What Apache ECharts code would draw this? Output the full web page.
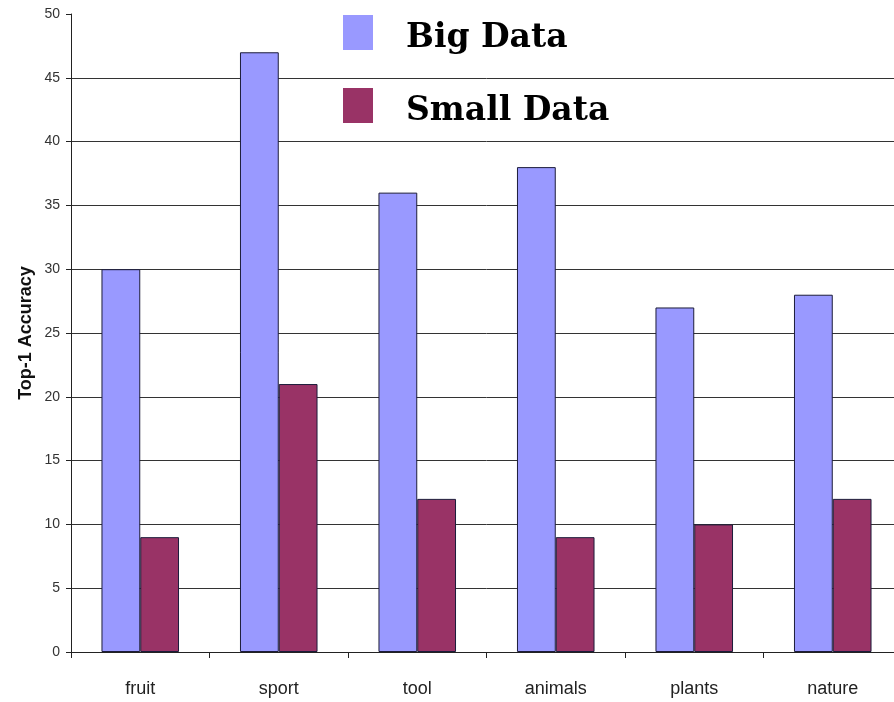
<!DOCTYPE html>
<html>
<head>
<meta charset="utf-8">
<script src="https://cdn.jsdelivr.net/npm/echarts@6/dist/echarts.min.js"></script>
<style>
  html, body { margin: 0; padding: 0; background: #fff; overflow: hidden; }
  /* the original picture is cropped on the right, so the plot runs past the window */
  #chart { width: 902px; height: 702px; }
</style>
</head>
<body>
<div id="chart"></div>
<script>
// data
const categories = ['fruit', 'sport', 'tool', 'animals', 'plants', 'nature'];
const bigData = [30, 47, 36, 38, 27, 28];
const smallData = [9, 21, 12, 9, 10, 12];
const seriesNames = ['Big Data', 'Small Data'];

const myChart = echarts.init(document.getElementById('chart'));

const option = {
  backgroundColor: '#fff',
  animation: false,
  color: ['#9999FF', '#993366'],
  grid: {
    left: 71,
    right: 0,
    top: 14,
    bottom: 50
  },
  legend: {
    data: seriesNames,
    orient: 'vertical',
    left: 343,
    top: 15,
    padding: 0,
    itemWidth: 30,
    itemHeight: 35,
    itemGap: 33,
    icon: 'rect',
    itemStyle: { borderWidth: 0 },
    formatter: function (name) { return '{t|' + name + '}'; },
    textStyle: {
      padding: [0, 0, 0, 28],
      rich: {
        t: {
          fontFamily: 'DejaVu Serif',
          fontWeight: 'bold',
          fontSize: 33,
          color: '#000',
          padding: [12, 0, 0, 0]
        }
      }
    }
  },
  xAxis: {
    type: 'category',
    data: categories,
    axisLine: { show: true, lineStyle: { color: '#222', width: 1 } },
    axisTick: { show: true, length: 6, lineStyle: { color: '#222' } },
    axisLabel: {
      margin: 28,
      fontFamily: 'Arial, Liberation Sans',
      fontSize: 18,
      color: '#222'
    }
  },
  yAxis: {
    type: 'value',
    min: 0,
    max: 50,
    interval: 5,
    name: 'Top-1 Accuracy',
    nameLocation: 'middle',
    nameGap: 36,
    nameMoveOverlap: false,
    nameTextStyle: {
      fontFamily: 'Arial, Liberation Sans',
      fontWeight: 'bold',
      fontSize: 18,
      color: '#111'
    },
    axisLine: { show: true, lineStyle: { color: '#222', width: 1 } },
    axisTick: { show: true, length: 5, lineStyle: { color: '#222' } },
    axisLabel: {
      margin: 11,
      fontFamily: 'Arial, Liberation Sans',
      fontSize: 14,
      color: '#333'
    },
    splitLine: {
      show: true,
      showMaxLine: false,
      lineStyle: { color: '#333', width: 1 }
    }
  },
  series: [
    {
      name: seriesNames[0],
      type: 'bar',
      data: bigData,
      barGap: '0%',
      barCategoryGap: '44%',
      itemStyle: { borderColor: '#1c1c3a', borderWidth: 1 }
    },
    {
      name: seriesNames[1],
      type: 'bar',
      data: smallData,
      barGap: '0%',
      barCategoryGap: '44%',
      itemStyle: { borderColor: '#1c1c3a', borderWidth: 1 }
    }
  ]
};

myChart.setOption(option);
window.addEventListener('resize', function () { myChart.resize(); });
</script>
</body>
</html>
